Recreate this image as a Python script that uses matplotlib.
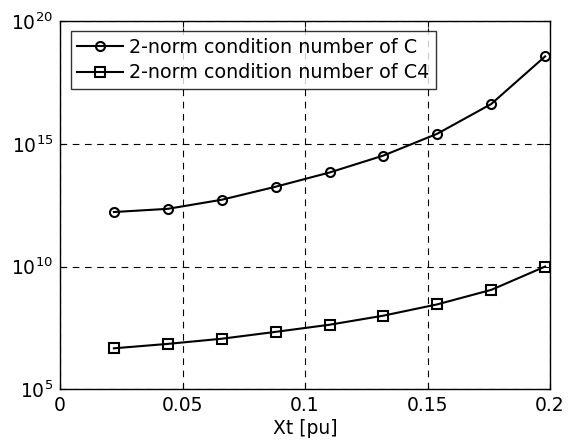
import numpy as np
import matplotlib
matplotlib.use("Agg")
import matplotlib.pyplot as plt
from matplotlib.ticker import NullLocator

plt.rcParams['font.family'] = ['DejaVu Sans']
plt.rcParams['mathtext.fontset'] = 'dejavusans'

xt = [0.022, 0.044, 0.066, 0.088, 0.110, 0.132, 0.154, 0.176, 0.198]
# log10 of the 2-norm condition numbers
log_cond_c = [12.22, 12.35, 12.72, 13.25, 13.83, 14.52, 15.41, 16.62, 18.56]
log_cond_c4 = [6.67, 6.85, 7.06, 7.34, 7.63, 8.00, 8.46, 9.05, 10.00]
labels = ['2-norm condition number of C', '2-norm condition number of C4']

cond_c = 10.0 ** np.array(log_cond_c)
cond_c4 = 10.0 ** np.array(log_cond_c4)

fig = plt.figure(figsize=(5.79, 4.42), dpi=100)
ax = fig.add_axes([0.1036, 0.1192, 0.8464, 0.8333])

ax.semilogy(xt, cond_c, color='black', lw=1.5, marker='o', ms=6.5,
            mfc='none', mec='black', mew=1.5, label=labels[0])
ax.semilogy(xt, cond_c4, color='black', lw=1.5, marker='s', ms=6.5,
            mfc='none', mec='black', mew=1.5, label=labels[1])

ax.set_xlim(0, 0.2)
ax.set_ylim(1e5, 1e20)
ax.set_xticks([0, 0.05, 0.1, 0.15, 0.2])
ax.set_xticklabels(['0', '0.05', '0.1', '0.15', '0.2'])
ax.set_yticks([1e5, 1e10, 1e15, 1e20])
ax.yaxis.set_minor_locator(NullLocator())
ax.tick_params(direction='in', labelsize=13.5, length=4, width=0.8,
               top=True, right=True, pad=5)
ax.grid(True, which='major', color='black', linestyle=(0, (6, 5)), lw=0.8)
for s in ax.spines.values():
    s.set_linewidth(1.0)

ax.set_xlabel('Xt [pu]', fontsize=13.5, labelpad=3)

leg = ax.legend(loc='upper left', bbox_to_anchor=(0.022, 0.973), fontsize=13.8,
                frameon=True, fancybox=False, edgecolor='black',
                borderpad=0.35, handlelength=2.4, handletextpad=0.3,
                labelspacing=0.35, borderaxespad=0)
leg.get_frame().set_linewidth(1.0)

fig.savefig('out.png', dpi=100)
